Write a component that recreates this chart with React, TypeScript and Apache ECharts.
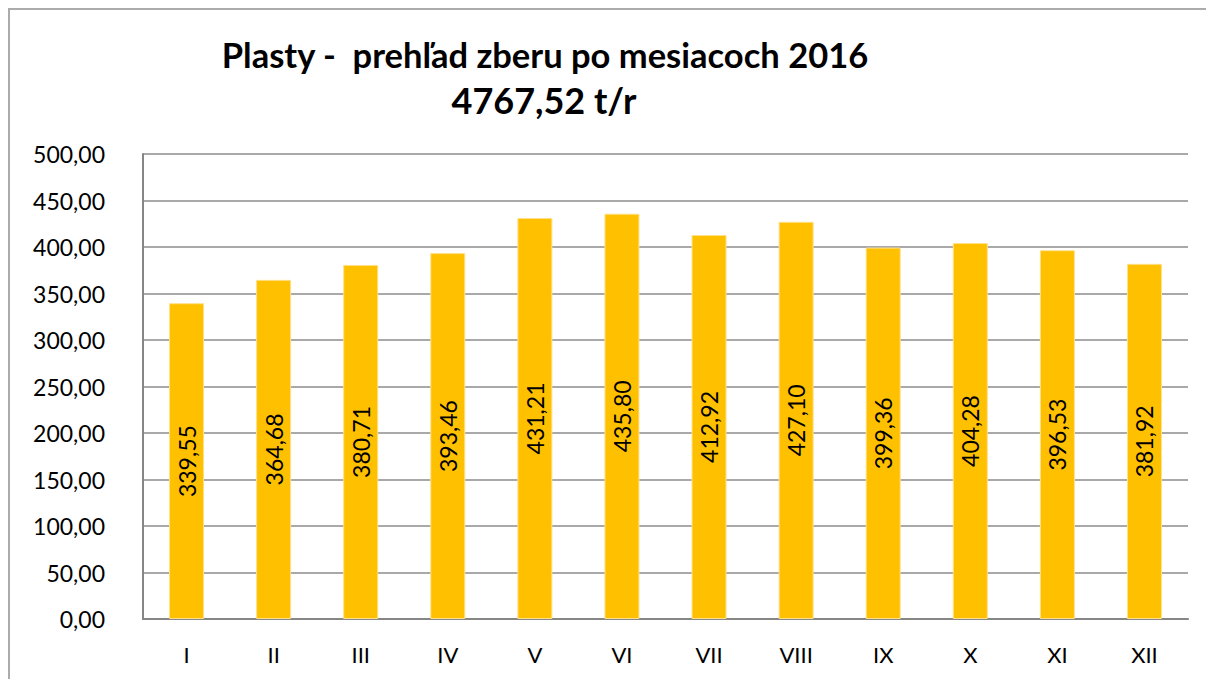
import React, { useEffect, useRef } from "react";
import * as echarts from "echarts";

const titleLine1 = "Plasty -  prehľad zberu po mesiacoch 2016";
const titleLine2 = "4767,52 t/r";
const months = ["I", "II", "III", "IV", "V", "VI", "VII", "VIII", "IX", "X", "XI", "XII"];
const values = [339.55, 364.68, 380.71, 393.46, 431.21, 435.8, 412.92, 427.1, 399.36, 404.28, 396.53, 381.92];
const yMin = 0;
const yMax = 500;
const yStep = 50;

const fmt = (v: number) => v.toFixed(2).replace(".", ",");

export default function App() {
  const ref = useRef<HTMLDivElement>(null);
  useEffect(() => {
    if (!ref.current) return;
    const chart = echarts.init(ref.current, null, { renderer: "svg" });
    const font = "Lato, 'Open Sans', sans-serif";
    chart.setOption({
      animation: false,
      backgroundColor: "#ffffff",
      textStyle: { fontFamily: font },
      grid: { left: 143, right: 18, top: 154, bottom: 60, containLabel: false },
      graphic: [
        { type: "line", shape: { x1: 8, y1: 9, x2: 1206, y2: 9 }, style: { stroke: "#ababab", lineWidth: 2 } },
        { type: "line", shape: { x1: 9, y1: 8, x2: 9, y2: 679 }, style: { stroke: "#ababab", lineWidth: 2 } },
        {
          type: "text",
          x: 545,
          y: 54,
          style: { text: titleLine1, font: `bold 34.5px ${font}`, fill: "#000", textAlign: "center", textVerticalAlign: "middle" },
        },
        {
          type: "text",
          x: 544,
          y: 100,
          style: { text: titleLine2, font: `bold 36px ${font}`, fill: "#000", textAlign: "center", textVerticalAlign: "middle" },
        },
      ],
      xAxis: {
        type: "category",
        data: months,
        axisLine: { show: true, lineStyle: { color: "#868686", width: 2 } },
        axisTick: { show: false },
        axisLabel: { color: "#000", fontSize: 22, fontFamily: font, margin: 24 },
      },
      yAxis: {
        type: "value",
        min: yMin,
        max: yMax,
        interval: yStep,
        axisLine: { show: true, lineStyle: { color: "#868686", width: 2 } },
        axisTick: { show: false },
        splitLine: { show: true, lineStyle: { color: "#8c8c8c", width: 1.5 } },
        axisLabel: { color: "#000", fontSize: 23, fontFamily: font, margin: 38, formatter: (v: number) => fmt(v) },
      },
      series: [
        {
          type: "bar",
          data: values,
          barWidth: 35,
          itemStyle: { color: "#FFC000", borderColor: "#FFE08A", borderWidth: 1 },
          label: {
            show: true,
            position: "inside",
            rotate: 90,
            color: "#000",
            fontSize: 23,
            fontFamily: font,
            formatter: (p: any) => fmt(p.value),
          },
        },
      ],
    });
    return () => chart.dispose();
  }, []);
  return <div ref={ref} style={{ position: "fixed", left: 0, top: 0, width: 1206, height: 679 }} />;
}
